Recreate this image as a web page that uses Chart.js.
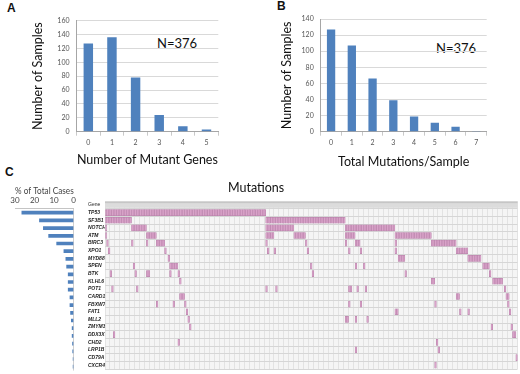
<!DOCTYPE html>
<html>
<head>
<meta charset="utf-8">
<script src="https://cdn.jsdelivr.net/npm/chart.js@4/dist/chart.umd.min.js"></script>
<style>
  body { margin: 0; background: #fff; width: 520px; height: 374px; position: relative; overflow: hidden; font-family: Lato, sans-serif; }
  canvas, .txt { position: absolute; }
  .letter { font: bold 12px "Liberation Sans", Arial, sans-serif; color: #111; }
  .n { font-size: 13px; color: #111; }
  .ttl { font-size: 12.5px; color: #111; }
</style>
</head>
<body>
<div class="txt letter" style="left:7px;top:1px">A</div>
<div class="txt letter" style="left:277px;top:-1px">B</div>
<div class="txt letter" style="left:5px;top:165px">C</div>
<div class="txt n" style="left:157px;top:35px">N=376</div>
<div class="txt n" style="left:436px;top:40px">N=376</div>
<div class="txt ttl" style="left:228px;top:180px;z-index:2">Mutations</div>

<canvas id="chartA" width="240" height="172" style="left:0;top:0"></canvas>
<canvas id="chartB" width="260" height="172" style="left:260px;top:0"></canvas>
<canvas id="chartPct" width="80" height="187" style="left:0;top:185px"></canvas>
<canvas id="chartOnco" width="432" height="187" style="left:88px;top:185px"></canvas>

<script>
// panel A
const mutantGeneCounts = ["0", "1", "2", "3", "4", "5"];
const samplesByGeneCount = [127, 136, 78, 24, 8, 3];

// panel B
const mutationsPerSample = ["0", "1", "2", "3", "4", "5", "6", "7"];
const samplesByMutationCount = [127, 107, 66, 39, 19, 11, 6, 1];

// panel C
const genes = ["TP53", "SF3B1", "NOTCH1", "ATM", "BIRC3", "XPO1", "MYD88", "SPEN", "BTK", "KLHL6",
  "POT1", "CARD11", "FBXW7", "FAT1", "MLL2", "ZMYM3", "DDX3X", "CHD2", "LRP1B", "CD79A", "CXCR4"];
const pctOfCases = [26.5, 17.5, 15.5, 12.8, 8.7, 5.0, 4.0, 3.6, 2.8, 2.8, 2.8, 1.9, 1.9, 1.6, 1.2, 0.8, 0.8, 0.6, 0.5, 0.3, 0.3];
const sampleCount = 249;
// mutated sample columns per gene, [first, last+1]
const mutationSpans = [
  [[0, 97]],
  [[0, 16], [97, 145]],
  [[0, 1], [16, 25], [97, 114], [145, 175]],
  [[0, 1], [25, 31], [97, 102], [114, 121], [145, 151], [175, 197]],
  [[1, 2], [16, 17], [25, 26], [31, 36], [97, 98], [121, 122], [145, 146], [151, 154], [175, 176], [197, 212]],
  [[2, 3], [36, 37], [98, 99], [102, 103], [122, 123], [147, 148], [154, 155], [175, 176], [212, 219]],
  [[38, 39], [177, 181], [219, 227]],
  [[17, 18], [39, 44], [124, 125], [151, 152], [156, 157], [228, 232]],
  [[3, 4], [18, 19], [25, 27], [39, 40], [44, 45], [125, 126], [181, 182], [232, 233]],
  [[45, 46], [197, 199], [234, 240]],
  [[4, 5], [19, 20], [97, 98], [103, 104], [147, 149], [152, 153], [157, 158], [241, 242]],
  [[45, 48], [212, 214], [242, 244]],
  [[31, 32], [41, 42], [48, 49], [147, 148], [154, 155], [199, 200], [243, 244]],
  [[49, 50], [175, 177], [214, 215], [219, 220], [244, 245]],
  [[50, 51], [145, 147], [151, 152], [158, 159]],
  [[51, 52], [233, 234], [245, 246]],
  [[5, 6], [246, 248]],
  [[44, 45], [200, 201]],
  [[151, 152], [201, 202]],
  [[248, 249]],
  [[199, 200]]
];

Chart.defaults.font.family = "Lato, sans-serif";
Chart.defaults.animation = false;
Chart.defaults.plugins.legend.display = false;
Chart.defaults.plugins.tooltip.enabled = false;

const blue = "#4f81bd";

const countChart = (id, labels, values, yMax, pad, yWidth, titleText, titlePad) => {
  new Chart(document.getElementById(id), {
    type: "bar",
    data: {
      labels: labels,
      datasets: [{ data: values, backgroundColor: blue, barPercentage: 0.4, categoryPercentage: 1 }]
    },
    options: {
      responsive: false,
      layout: { padding: pad },
      scales: {
        x: {
          grid: { offset: true, drawOnChartArea: false, tickLength: 4, color: "#c9c9c9" },
          border: { color: "#a6a6a6" },
          ticks: { font: { size: 7 }, color: "#555", padding: 3 },
          title: { display: true, text: titleText, font: { size: 12.5 }, color: "#111", padding: { top: 0, bottom: titlePad } },
          afterFit: s => { s.height = 172 - 131.7; }
        },
        y: {
          min: 0, max: yMax,
          ticks: { stepSize: 20, font: { size: 7 }, color: "#555", padding: 7 },
          grid: { color: "#d9d9d9", drawTicks: false },
          border: { color: "#a6a6a6" },
          title: { display: true, text: "Number of Samples", font: { size: 12.5 }, color: "#111", padding: { top: 4, bottom: 0 } },
          afterFit: s => { s.width = yWidth; }
        }
      }
    }
  });
};

countChart("chartA", mutantGeneCounts, samplesByGeneCount, 160,
  { left: 26, top: 20.7, right: 21.7, bottom: 0 }, 50.5, "Number of Mutant Genes", 4.5);
countChart("chartB", mutationsPerSample, samplesByMutationCount, 140,
  { left: 15.2, top: 19, right: 33.3, bottom: 0 }, 45.5, "Total Mutations/Sample", 2.8);

// left: % of total cases
new Chart(document.getElementById("chartPct"), {
  type: "bar",
  data: {
    labels: genes,
    datasets: [{ data: pctOfCases, backgroundColor: blue, barThickness: 3 }]
  },
  options: {
    responsive: false,
    indexAxis: "y",
    layout: { padding: { left: 15, right: 2.7, top: 0, bottom: 1.45 } },
    scales: {
      x: {
        position: "top",
        reverse: true,
        min: 0, max: 30,
        ticks: { stepSize: 10, font: { size: 8 }, color: "#444", padding: 4 },
        grid: {
          drawTicks: false,
          color: c => (c.tick && c.tick.value === 0 ? "#cfcfcf" : "rgba(0,0,0,0)")
        },
        border: { color: "#c4c4c4" },
        title: { display: true, text: "% of Total Cases", font: { size: 9 }, color: "#444", padding: { top: 0.6, bottom: 0 } },
        afterFit: s => { s.height = 23.85; }
      },
      y: { display: false }
    }
  }
});

// right: mutation matrix
const cells = [];
genes.forEach((g, gi) => {
  mutationSpans[gi].forEach(([s, e]) => {
    for (let i = s; i < e; i++) cells.push({ x: [i, i + 1], y: g });
  });
});

const matrixBackground = {
  id: "matrixBackground",
  beforeDraw(chart) {
    const { ctx, chartArea: a } = chart;
    ctx.save();
    ctx.fillStyle = "#f5f5f5";
    ctx.fillRect(a.left, a.top, a.width, a.height);
    ctx.restore();
  },
  beforeDatasetsDraw(chart) {
    const { ctx, chartArea: a, scales: { y } } = chart;
    const h = y.getPixelForValue(1) - y.getPixelForValue(0);
    const c = y.getPixelForValue(0);
    ctx.save();
    ctx.fillStyle = "#dcdcdc";
    ctx.fillRect(a.left, c - h / 2 + 1, a.width, h - 2);
    ctx.strokeStyle = "#c2c2c2";
    ctx.lineWidth = 1;
    ctx.beginPath();
    ctx.moveTo(a.left, c - h / 2 + 1.5);
    ctx.lineTo(a.right, c - h / 2 + 1.5);
    ctx.stroke();
    ctx.restore();
  }
};

new Chart(document.getElementById("chartOnco"), {
  type: "bar",
  data: {
    labels: ["Gene"].concat(genes),
    datasets: [{
      data: cells,
      backgroundColor: "#d9a3c9",
      borderColor: "#b57fa7",
      borderWidth: 0.5,
      borderSkipped: false,
      barThickness: 6
    }]
  },
  options: {
    responsive: false,
    indexAxis: "y",
    layout: { padding: { left: 0, right: 2.5, top: 16.15, bottom: 1.45 } },
    scales: {
      x: {
        type: "linear",
        min: 0, max: sampleCount,
        ticks: { display: false, stepSize: 3 },
        grid: { color: "#e3e3e3", drawTicks: false },
        border: { display: false },
        afterFit: s => { s.height = 0; }
      },
      y: {
        offset: true,
        grid: { offset: true, color: "#d6d6d6", drawTicks: false },
        border: { display: false },
        ticks: {
          autoSkip: false,
          crossAlign: "far",
          padding: 0,
          color: "#222",
          font: c => (c.index === 0
            ? { size: 5, family: "'Liberation Sans Narrow', 'Liberation Sans'" }
            : { size: 5, style: "italic", weight: "bold", family: "'Liberation Sans Narrow', 'Liberation Sans'" })
        },
        afterFit: s => { s.width = 17; }
      }
    }
  },
  plugins: [matrixBackground]
});
</script>
</body>
</html>
